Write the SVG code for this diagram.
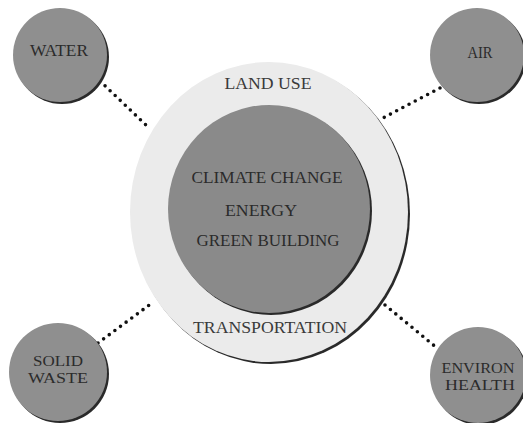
<svg xmlns="http://www.w3.org/2000/svg" width="523" height="423" viewBox="0 0 523 423">
<defs>
<style>
.bubble{fill:#8f8f8f}
.shadow{fill:#2a2a2a}
.ring{fill:#ebebeb}
.core{fill:#8a8a8a}
.lbl{font-family:"Liberation Serif","DejaVu Serif",serif;fill:#2b2b2b;text-anchor:middle;font-size:17px}
.lbl2{font-family:"Liberation Serif","DejaVu Serif",serif;fill:#2b2b2b;text-anchor:middle;font-size:14px}
.ringlbl{font-family:"Liberation Serif","DejaVu Serif",serif;fill:#3a3a3a;text-anchor:middle;font-size:17px}
.dots{stroke:#111;stroke-width:3.6;stroke-linecap:round;stroke-dasharray:0 7;fill:none}
</style>
</defs>
<rect width="523" height="423" fill="#ffffff"/>
<g id="connectors">
<line class="dots" x1="100" y1="81" x2="148" y2="127"/>
<line class="dots" x1="440" y1="88" x2="383" y2="118"/>
<line class="dots" x1="98" y1="343" x2="152" y2="303"/>
<line class="dots" x1="385" y1="305" x2="437" y2="348"/>
</g>
<g id="center">
<ellipse class="shadow" cx="271" cy="214" rx="139" ry="150"/>
<ellipse class="ring" cx="269" cy="212" rx="139" ry="150"/>
<ellipse class="shadow" cx="271" cy="211" rx="101" ry="104"/>
<ellipse class="core" cx="269" cy="209" rx="101" ry="104"/>
<text class="ringlbl" x="268" y="89" textLength="87" lengthAdjust="spacingAndGlyphs">LAND USE</text>
<text class="lbl" x="267" y="183" textLength="151" lengthAdjust="spacingAndGlyphs">CLIMATE CHANGE</text>
<text class="lbl" x="261" y="216" textLength="72" lengthAdjust="spacingAndGlyphs">ENERGY</text>
<text class="lbl" x="268" y="246" textLength="143" lengthAdjust="spacingAndGlyphs">GREEN BUILDING</text>
<text class="ringlbl" x="270" y="333" textLength="154" lengthAdjust="spacingAndGlyphs">TRANSPORTATION</text>
</g>
<g id="water">
<circle class="shadow" cx="62" cy="57" r="47"/>
<circle class="bubble" cx="60" cy="55" r="47"/>
<text class="lbl" x="59" y="56" textLength="58" lengthAdjust="spacingAndGlyphs">WATER</text>
</g>
<g id="air">
<circle class="shadow" cx="479" cy="57" r="47"/>
<circle class="bubble" cx="477" cy="55" r="47"/>
<text class="lbl" x="480" y="58" textLength="25" lengthAdjust="spacingAndGlyphs">AIR</text>
</g>
<g id="solid-waste">
<circle class="shadow" cx="60" cy="374" r="49"/>
<circle class="bubble" cx="58" cy="372" r="49"/>
<text class="lbl2" x="58" y="366" textLength="50" lengthAdjust="spacingAndGlyphs">SOLID</text>
<text class="lbl2" x="58" y="383" textLength="60" lengthAdjust="spacingAndGlyphs">WASTE</text>
</g>
<g id="environ-health">
<circle class="shadow" cx="480" cy="377" r="48"/>
<circle class="bubble" cx="478" cy="375" r="48"/>
<text class="lbl2" x="478" y="373" textLength="73" lengthAdjust="spacingAndGlyphs">ENVIRON</text>
<text class="lbl2" x="480" y="390" textLength="70" lengthAdjust="spacingAndGlyphs">HEALTH</text>
</g>
</svg>
